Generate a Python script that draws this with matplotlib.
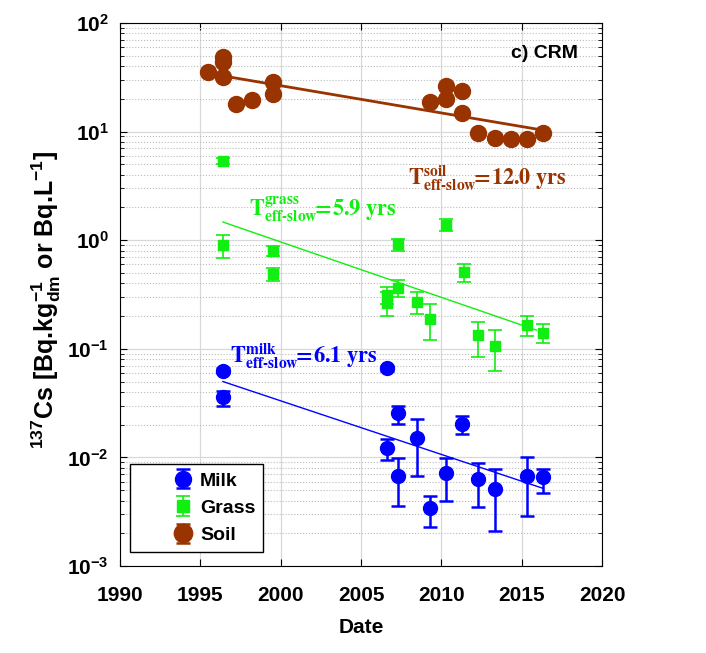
import numpy as np
import matplotlib
matplotlib.use("Agg")
import matplotlib.pyplot as plt
from matplotlib.ticker import LogLocator, NullFormatter

plt.rcParams['font.family'] = ['Liberation Sans', 'DejaVu Sans']
plt.rcParams['font.weight'] = 'bold'
plt.rcParams['mathtext.fontset'] = 'custom'
plt.rcParams['mathtext.rm'] = 'Liberation Sans:bold'
plt.rcParams['mathtext.it'] = 'Liberation Sans:bold'
plt.rcParams['mathtext.bf'] = 'Liberation Sans:bold'

# soil (no visible error bars)
soil_year = [1995.5, 1996.4, 1996.4, 1996.4, 1997.2, 1998.2, 1999.5, 1999.5,
             2009.3, 2010.3, 2010.3, 2011.3, 2011.3, 2012.3, 2013.3, 2014.3, 2015.3, 2016.3]
soil_val = [35, 48, 44, 31.5, 18, 19.5, 28.5, 22,
            18.7, 26.5, 20, 23.5, 14.8, 9.6, 8.8, 8.5, 8.5, 9.7]

# grass: value, lower and upper end of error bar
grass_year = [1996.4, 1996.4, 1999.5, 1999.5, 2006.6, 2006.6, 2007.3, 2007.3,
              2008.5, 2009.3, 2010.3, 2011.4, 2012.3, 2013.3, 2015.3, 2016.3]
grass_val = [5.3, 0.90, 0.80, 0.49, 0.31, 0.265, 0.93, 0.36,
             0.27, 0.19, 1.38, 0.51, 0.135, 0.107, 0.165, 0.14]
grass_lo = [5.0, 0.68, 0.72, 0.42, 0.26, 0.20, 0.79, 0.30,
            0.21, 0.12, 1.22, 0.41, 0.085, 0.062, 0.13, 0.112]
grass_hi = [5.7, 1.12, 0.88, 0.55, 0.37, 0.33, 1.02, 0.43,
            0.335, 0.26, 1.55, 0.60, 0.175, 0.148, 0.20, 0.17]

# milk
milk_year = [1996.4, 1996.4, 2006.6, 2006.6, 2007.3, 2007.3, 2008.5, 2009.3,
             2010.3, 2011.3, 2012.3, 2013.3, 2015.3, 2016.3]
milk_val = [0.063, 0.036, 0.066, 0.0122, 0.0255, 0.0068, 0.0150, 0.0034,
            0.0072, 0.0205, 0.0064, 0.0051, 0.0068, 0.0066]
milk_lo = [0.060, 0.0295, 0.063, 0.0094, 0.0203, 0.0036, 0.0068, 0.0023,
           0.0040, 0.0163, 0.0035, 0.0021, 0.0029, 0.0047]
milk_hi = [0.067, 0.041, 0.069, 0.0148, 0.0295, 0.0099, 0.0225, 0.0044,
           0.0099, 0.0242, 0.0089, 0.0078, 0.0101, 0.0078]

# exponential fits: (start year, end year, value at start, half-life in yrs)
soil_fit = (1996.4, 2016.3, 32.5, 12.0)
grass_fit = (1996.4, 2015.9, 1.47, 5.9)
milk_fit = (1996.4, 2016.3, 0.050, 6.1)

C_SOIL = '#993300'
C_GRASS = '#11ee11'
C_MILK = '#0000ff'

HYPHEN = '\u2010'


def fit_line(t0, t1, v0, half):
    t = np.linspace(t0, t1, 50)
    return t, v0 * np.exp(-np.log(2) / half * (t - t0))


def yerr(val, lo, hi):
    val = np.array(val)
    return [val - np.array(lo), np.array(hi) - val]


def t_label(medium, half):
    # stacked super/subscript like the original, '=' without relation spacing
    return (r'$\mathbf{T}^{\mathbf{' + medium + r'}}_{\mathbf{eff' + HYPHEN + r'slow}}'
            r'\!\!=\!\mathbf{' + half + r'\ yrs}$')


fig = plt.figure(figsize=(7.06, 6.53), dpi=100)
ax = fig.add_axes([0.170, 0.133, 0.683, 0.832])

h_milk = ax.errorbar(milk_year, milk_val, yerr=yerr(milk_val, milk_lo, milk_hi),
                     fmt='o', color=C_MILK, ms=10, capsize=5, elinewidth=1.8,
                     capthick=1.8, label='Milk', zorder=3)
h_grass = ax.errorbar(grass_year, grass_val, yerr=yerr(grass_val, grass_lo, grass_hi),
                      fmt='s', color=C_GRASS, ms=7, capsize=5, elinewidth=1.2,
                      capthick=1.2, label='Grass', zorder=3)
h_soil = ax.errorbar(soil_year, soil_val, yerr=np.zeros(len(soil_val)),
                     fmt='o', color=C_SOIL, ms=11.5, capsize=5, elinewidth=1.8,
                     capthick=1.8, label='Soil', zorder=3)

for fit, c, lw in [(soil_fit, C_SOIL, 2.0), (grass_fit, C_GRASS, 1.0), (milk_fit, C_MILK, 1.0)]:
    t, v = fit_line(*fit)
    ax.plot(t, v, color=c, lw=lw, zorder=2)

ax.set_yscale('log')
ax.set_xlim(1990, 2020)
ax.set_ylim(1e-3, 1e2)
ax.set_xticks(range(1990, 2021, 5))
ax.yaxis.set_major_locator(LogLocator(base=10, numticks=10))
ax.yaxis.set_minor_locator(LogLocator(base=10, subs=np.arange(2, 10), numticks=50))
ax.yaxis.set_minor_formatter(NullFormatter())
ax.tick_params(which='both', direction='in', top=True, right=True)
ax.tick_params(which='major', length=5, labelsize=15)
ax.tick_params(which='minor', length=3)
ax.tick_params(axis='x', which='major', pad=14)
ax.tick_params(axis='y', which='major', pad=8)
ax.grid(True, which='major', color='#d8d8d8', lw=0.9)
ax.grid(True, which='minor', axis='y', color='#bbbbbb', ls=':', lw=0.8)
ax.set_axisbelow(True)
for lab in ax.get_xticklabels() + ax.get_yticklabels():
    lab.set_fontweight('bold')

ax.set_xlabel('Date', fontsize=15, fontweight='bold', labelpad=10)
ax.set_ylabel(r'$^{137}$Cs [Bq.kg$^{-1}_{dm}$ or Bq.L$^{-1}$]', fontsize=18,
              fontweight='bold')
ax.yaxis.set_label_coords(-0.118, 0.49)

ax.text(2018.5, 52, 'c) CRM', ha='right', va='center', fontsize=14, fontweight='bold')

ax.text(2007.9, 3.2, t_label('soil', '12.0'), color=C_SOIL, fontsize=16,
        math_fontfamily='stix', va='baseline')
ax.text(1998.0, 1.69, t_label('grass', '5.9'), color=C_GRASS, fontsize=16,
        math_fontfamily='stix', va='baseline')
ax.text(1996.85, 0.0748, t_label('milk', '6.1'), color=C_MILK, fontsize=16,
        math_fontfamily='stix', va='baseline')

leg = ax.legend(handles=[h_milk, h_grass, h_soil], loc='lower left',
                bbox_to_anchor=(0.021, 0.026), borderaxespad=0, fancybox=False,
                edgecolor='black', framealpha=1, prop={'weight': 'bold', 'size': 14},
                borderpad=0.4, handlelength=4.6, handletextpad=-1.4, labelspacing=0.5,
                markerscale=1.15)
leg.get_frame().set_linewidth(1.0)

fig.savefig('out.png', dpi=100)
